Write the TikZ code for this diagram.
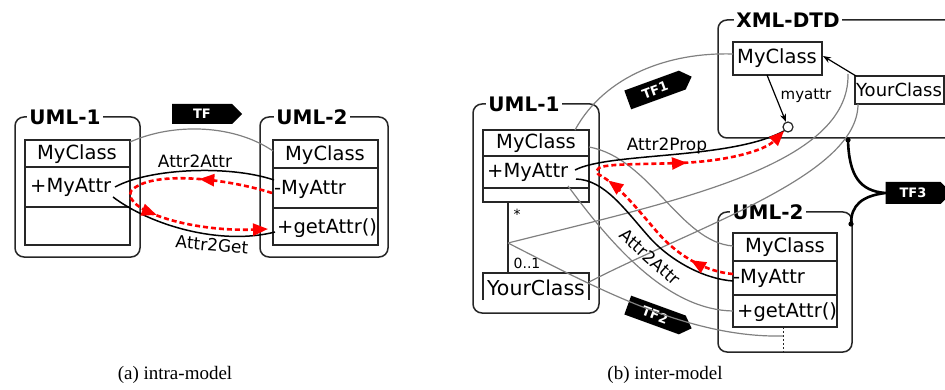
\documentclass[tikz,border=0pt]{standalone}
\usepackage{fontspec}
\setmainfont{DejaVu Sans}
\newfontfamily\capfont{Liberation Serif}
\usetikzlibrary{shapes.symbols,decorations.markings,arrows.meta}

\tikzset{
  modelbox/.style={draw=black!85, line width=1.5pt, rounded corners=9pt},
  boxtitle/.style={fill=white, inner sep=2pt, font=\bfseries\fontsize{20}{22}\selectfont},
  clsbox/.style={draw=black!85, line width=1.5pt},
  ctext/.style={font=\fontsize{19.5}{21}\selectfont, inner sep=0pt},
  lbl/.style={font=\fontsize{17}{19}\selectfont, inner sep=1pt},
  small/.style={font=\fontsize{14}{16}\selectfont, inner sep=0pt},
  trace/.style={draw=black!50, line width=1.2pt},
  rulelink/.style={draw=black, line width=1.5pt},
  tag/.style={signal, signal to=east, signal pointer angle=90, fill=black, text=white,
    font=\bfseries\fontsize{13}{14}\selectfont, minimum height=20pt, inner sep=2pt},
  redpath/.style={draw=red, line width=2.6pt, dash pattern=on 5pt off 3pt},
  redtip/.style={-{Triangle[length=15pt,width=12pt]}},
  redmarks/.style 2 args={postaction={decorate, decoration={markings,
      mark=at position #1 with {\arrow[red,solid]{Triangle[length=15pt,width=12pt]}},
      mark=at position #2 with {\arrow[red,solid]{Triangle[length=15pt,width=12pt]}}}}},
}

\begin{document}
\begin{tikzpicture}[x=1pt, y=-1pt]
\useasboundingbox (0,0) rectangle (945,390);
\clip (0,0) rectangle (945,390);

% ---------------- (a) intra-model ----------------
\draw[modelbox] (15,117) rectangle (140,257);
\node[boxtitle] (a1title) at (65,117) {UML-1};
\draw[clsbox] (25,140) rectangle (130,245);
\draw[clsbox] (25,167) -- (130,167) (25,207) -- (130,207);
\node[ctext] (a1cls) at (77,154) {MyClass};
\node[ctext, anchor=west] (a1attr) at (30,187) {+MyAttr};

\draw[modelbox] (260,117) rectangle (388,257);
\node[boxtitle] (a2title) at (312,117) {UML-2};
\draw[clsbox] (273,140) rectangle (378,245);
\draw[clsbox] (273,168) -- (378,168) (273,208) -- (378,208);
\node[ctext] (a2cls) at (325,155) {MyClass};
\node[ctext, anchor=west] (a2attr) at (274,189) {-MyAttr};
\node[ctext, anchor=west] (a2get) at (277,228) {+getAttr()};

\node[tag, minimum width=70pt] (tfa) at (202,114) {TF};

\coordinate (a1top) at (130,142);
\coordinate (a2left) at (273,151);
\coordinate (a1r1) at (115,187);
\coordinate (a1r2) at (113,197);
\coordinate (a2r1) at (274,180);
\coordinate (a2r2) at (275,232);
\coordinate (a2red1) at (272,193);
\coordinate (a2red2) at (268,229);

\draw[trace] (a1top) .. controls (175,122) and (235,125) .. (a2left);
\draw[rulelink] (a1r1) .. controls (150,168) and (230,165) .. (a2r1);
\draw[rulelink] (a1r2) .. controls (150,225) and (220,246) .. (a2r2);
\node[lbl] (lattr) at (195,161) {Attr2Attr};
\node[lbl, rotate=-5] (lget) at (212,245) {Attr2Get};

\path[redpath, redtip, redmarks={0.25}{0.62}]
  (a2red1) .. controls (225,178) and (150,170) .. (131,191)
  .. controls (122,210) and (190,232) .. (a2red2);

\node[font=\capfont\fontsize{19}{21}\selectfont] (capa) at (175,375) {(a) intra-model};

% ---------------- (b) inter-model ----------------
% UML-1
\draw[modelbox] (473,104) rectangle (599,313);
\node[boxtitle] (b1title) at (524,104) {UML-1};
\draw[clsbox] (483,130) rectangle (589,202);
\draw[clsbox] (483,156) -- (589,156) (483,188) -- (589,188);
\node[ctext] (b1cls) at (536,143) {MyClass};
\node[ctext, anchor=west] (b1attr) at (487,172) {+MyAttr};
\coordinate (assocA) at (508,202);
\coordinate (assocB) at (508,273);
\draw[clsbox] (assocA) -- (assocB);
\node[small] (star) at (517,214) {*};
\node[small] (mult) at (527,263) {0..1};
\draw[clsbox] (483,300) -- (483,273) -- (589,273) -- (589,300);
\node[font=\fontsize{20.5}{22}\selectfont, inner sep=0pt] (b1your) at (536,288) {YourClass};

% XML-DTD
\draw[modelbox] (718,20) rectangle (980,138);
\node[boxtitle] (xtitle) at (788,20) {XML-DTD};
\draw[clsbox] (733,42) rectangle (822,75);
\node[ctext] (xcls) at (777,58) {MyClass};
\draw[clsbox] (855,76) rectangle (944,104);
\node[font=\fontsize{18}{20}\selectfont, inner sep=0pt] (xyour) at (899,90) {YourClass};
\node[circle, draw=black!85, line width=1.2pt, minimum size=10pt, inner sep=0pt, fill=white] (circ) at (788,127) {};
\coordinate (xref) at (856,76);
\coordinate (xclsR) at (823,56);
\coordinate (xclsB) at (767,75);
\draw[black, line width=1.2pt, -{Stealth[length=8pt,width=6pt]}] (xref) -- (xclsR);
\draw[black, line width=1.2pt, -{Stealth[length=8pt,width=6pt]}] (xclsB) -- (circ);
\node[font=\fontsize{15}{17}\selectfont, inner sep=1pt] (myattr) at (806,96) {myattr};

% UML-2
\draw[modelbox] (718,212) rectangle (852,352);
\node[boxtitle] (b2title) at (768,212) {UML-2};
\draw[clsbox] (733,233) rectangle (837,327);
\draw[clsbox] (733,261) -- (837,261) (733,295) -- (837,295);
\node[ctext] (b2cls) at (785,247) {MyClass};
\node[ctext, anchor=west] (b2attr) at (733,278) {-MyAttr};
\node[ctext, anchor=west] (b2get) at (737,312) {+getAttr()};
\coordinate (b2assoc) at (783,327);
\coordinate (b2assocEnd) at (783,352);
\draw[black!85, line width=1pt, dash pattern=on 2pt off 2pt] (b2assoc) -- (b2assocEnd);

% transformation tags
\node[tag, rotate=20, minimum width=68pt] (tf1) at (655,90) {TF1};
\node[tag, rotate=-20, minimum width=68pt] (tf2) at (655,315) {TF2};
\node[tag, minimum width=66pt, minimum height=22pt] (tf3) at (913,193) {TF3};
\coordinate (tf3top) at (848,140);
\coordinate (tf3bot) at (851,224);
\draw[black, line width=2.6pt]
  (tf3top) .. controls (849,176) and (860,191) .. (tf3.west)
  .. controls (862,196) and (851,205) .. (tf3bot);
\fill[black] (tf3top) circle (2.6pt) (tf3bot) circle (2.6pt);

% trace links
\coordinate (b1clsTop) at (575,130);
\coordinate (b1clsR) at (589,147);
\coordinate (b1attrB) at (568,186);
\coordinate (b1assoc) at (508,243);
\coordinate (b1yourR) at (589,282);
\coordinate (xclsL) at (733,54);
\coordinate (xyourBL) at (858,104);
\coordinate (xrefMid) at (848,74);
\coordinate (b2clsL) at (733,246);
\coordinate (b2getL) at (733,311);
\coordinate (b2assocMid) at (783,336);
\draw[trace] (b1clsTop) .. controls (605,75) and (670,52) .. (xclsL);
\draw[trace] (b1assoc) .. controls (680,200) and (850,165) .. (xrefMid);
\draw[trace] (b1yourR) .. controls (700,225) and (858,175) .. (xyourBL);
\draw[trace] (b1clsR) .. controls (650,158) and (680,242) .. (b2clsL);
\draw[trace] (b1attrB) .. controls (615,250) and (670,310) .. (b2getL);
\draw[trace] (b1assoc) .. controls (600,290) and (690,338) .. (b2assocMid);

% rule links
\coordinate (b1r1) at (575,170);
\coordinate (b1r2) at (576,179);
\coordinate (b2r) at (733,281);
\coordinate (b2red) at (733,274);
\draw[rulelink] (b1r1) .. controls (610,152) and (730,160) .. (circ.south west);
\draw[rulelink] (b1r2) .. controls (605,180) and (625,210) .. (650,238)
  .. controls (672,262) and (705,279) .. (b2r);
\node[lbl] (lprop) at (667,146) {Attr2Prop};
\node[lbl, rotate=-42] (lattr2) at (650,257) {Attr2Attr};

\path[redpath, redtip, redmarks={0.12}{0.43}, postaction={decorate, decoration={markings,
    mark=at position 0.72 with {\arrow[red,solid]{Triangle[length=15pt,width=12pt]}}}}]
  (b2red) .. controls (708,272) and (680,258) .. (658,233)
  .. controls (638,210) and (620,186) .. (598,174)
  .. controls (590,163) and (620,165) .. (680,163)
  .. controls (730,161) and (765,150) .. (circ.south west);

\node[font=\capfont\fontsize{19}{21}\selectfont] (capb) at (665,375) {(b) inter-model};
\end{tikzpicture}
\end{document}
